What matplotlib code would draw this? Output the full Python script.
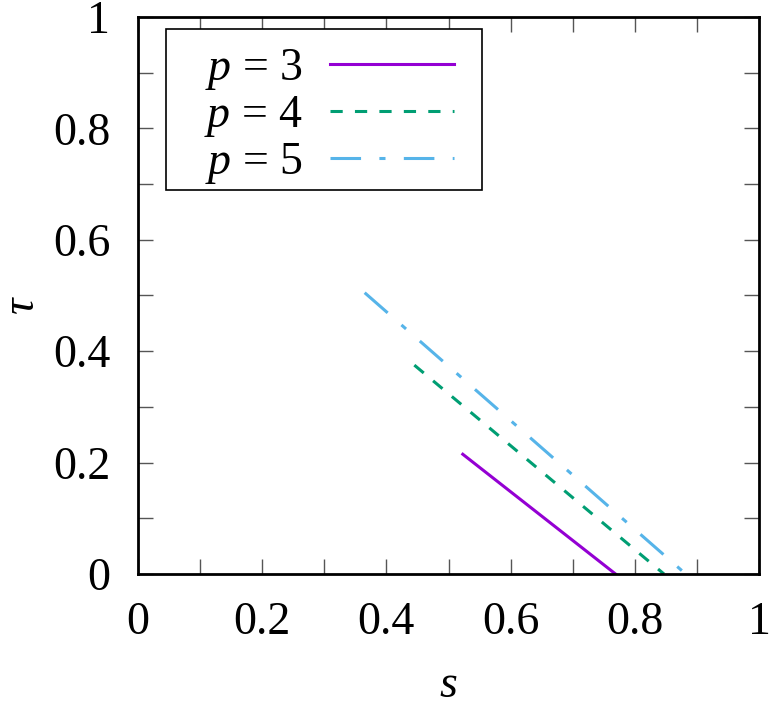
import matplotlib
matplotlib.use("Agg")
import matplotlib.pyplot as plt
from matplotlib.ticker import MultipleLocator
from matplotlib.patches import Rectangle

# data
s_p3 = [0.523, 0.769]
tau_p3 = [0.215, 0.0]
s_p4 = [0.445, 0.847]
tau_p4 = [0.375, 0.0]
s_p5 = [0.365, 0.882]
tau_p5 = [0.505, 0.0]
labels = [r"$p$ = 3", r"$p$ = 4", r"$p$ = 5"]
xticks = [0, 0.2, 0.4, 0.6, 0.8, 1]
xticklabels = ["0", "0.2", "0.4", "0.6", "0.8", "1"]
yticks = [0, 0.2, 0.4, 0.6, 0.8, 1]
yticklabels = ["0", "0.2", "0.4", "0.6", "0.8", "1"]

plt.rcParams['font.family'] = ['Liberation Serif', 'DejaVu Serif']
plt.rcParams['mathtext.fontset'] = 'custom'
plt.rcParams['mathtext.rm'] = 'Liberation Serif'
plt.rcParams['mathtext.it'] = 'Liberation Serif:italic'

FS = 33
W, H = 621, 557
fig = plt.figure(figsize=(7.69, 7.09), dpi=100)
ax = fig.add_axes([138/769, 1-574/709, W/769, H/709])

ax.plot(s_p3, tau_p3, color='#9400D3', lw=2.2, linestyle='-', label=labels[0])
ax.plot(s_p4, tau_p4, color='#009E73', lw=2.2, linestyle=(0, (4, 4)), label=labels[1])
ax.plot(s_p5, tau_p5, color='#56B4E9', lw=2.2, linestyle=(0, (10, 6, 2, 6)), label=labels[2])

ax.set_xlim(0, 1)
ax.set_ylim(0, 1)
ax.set_xticks(xticks)
ax.set_xticklabels(xticklabels)
ax.set_yticks(yticks)
ax.set_yticklabels(yticklabels)
ax.xaxis.set_minor_locator(MultipleLocator(0.1))
ax.yaxis.set_minor_locator(MultipleLocator(0.1))
ax.tick_params(which='both', direction='in', top=True, right=True, length=11,
               width=1, color='#555555', labelsize=FS)
ax.tick_params(axis='x', which='both', pad=20)
ax.tick_params(axis='y', which='both', pad=20)
for sp in ax.spines.values():
    sp.set_linewidth(2)

ax.set_xlabel(r'$s$', fontsize=FS, va='center', ha='center')
ax.xaxis.set_label_coords(0.5, (574-686)/H)
ax.set_ylabel(r'$\tau$', fontsize=FS, rotation=90, va='center', ha='center')
ax.yaxis.set_label_coords((23-138)/W, (574-305)/H)

# legend frame
ax.add_patch(Rectangle(((166-138)/W, (574-190)/H), (482-166)/W, (190-29)/H,
                       transform=ax.transAxes, facecolor='white', edgecolor='black',
                       lw=1.2, zorder=4))
leg = ax.legend(loc='upper left', bbox_to_anchor=(32/W, 1-16/H), fontsize=FS,
                frameon=False, markerfirst=False, handlelength=2.7, handletextpad=0.6,
                labelspacing=0.05, borderpad=0.3, borderaxespad=0)
leg.set_zorder(5)
for t in leg.get_texts():
    t.set_text("  " + t.get_text())

fig.savefig('out.png', dpi=100)
